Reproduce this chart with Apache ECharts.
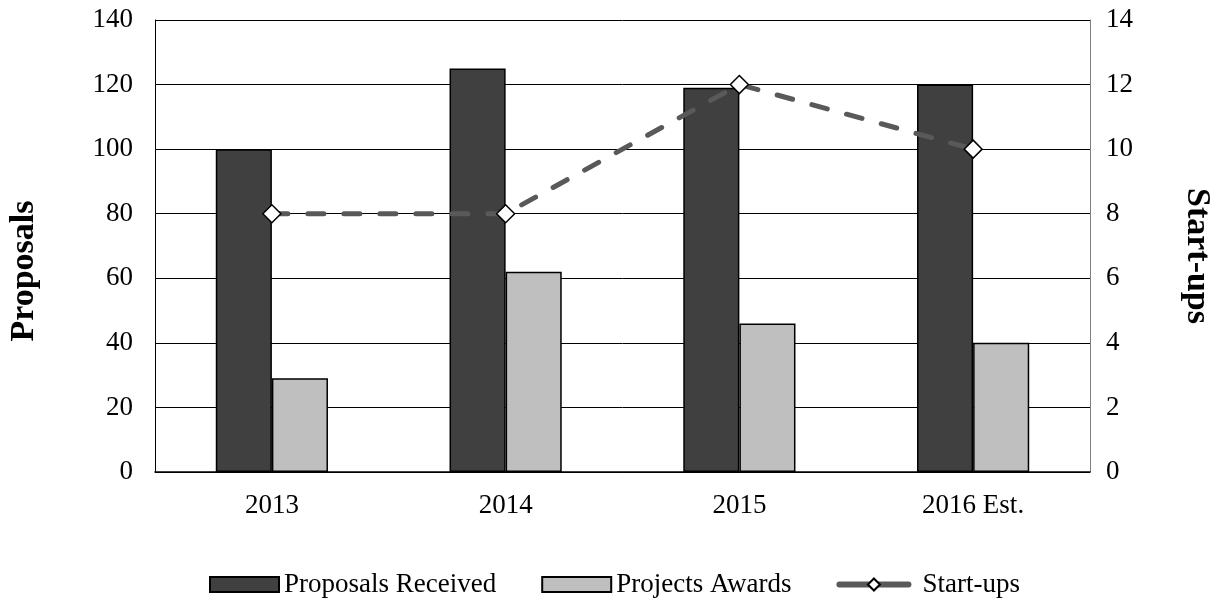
<!DOCTYPE html>
<html><head><meta charset="utf-8">
<script src="https://cdn.jsdelivr.net/npm/echarts@6/dist/echarts.min.js"></script>
<style>html,body{margin:0;padding:0;background:#fff}#c{width:1222px;height:599px}</style>
</head><body><div id="c"></div>
<script>
const categories = ['2013', '2014', '2015', '2016 Est.'];
const proposalsReceived = [100, 125, 119, 120];
const projectsAwards = [29, 62, 46, 40];
const startUps = [8, 8, 12, 10];
const leftTicks = [0, 20, 40, 60, 80, 100, 120, 140];
const rightTicks = [0, 2, 4, 6, 8, 10, 12, 14];
const leftTitle = 'Proposals';
const rightTitle = 'Start-ups';

const font = 'Liberation Serif, Times New Roman, serif';
const chart = echarts.init(document.getElementById('c'));
chart.setOption({
  animation: false,
  textStyle: { fontFamily: font },
  grid: { left: 155, right: 132, top: 20, bottom: 127 },
  graphic: [{
    type: 'text', x: 24, y: 271, rotation: Math.PI / 2,
    style: { text: leftTitle, font: 'bold 34px ' + font, fill: '#000', align: 'center', verticalAlign: 'middle' }
  }, {
    type: 'text', x: 1197, y: 256, rotation: -Math.PI / 2,
    style: { text: rightTitle, font: 'bold 34px ' + font, fill: '#000', align: 'center', verticalAlign: 'middle' }
  }],
  legend: {
    top: 566, left: 204,
    itemWidth: 69, itemHeight: 15, itemGap: 45,
    textStyle: { fontFamily: font, fontSize: 27, color: '#000' },
    data: [
      { name: 'Proposals Received', icon: 'rect' },
      { name: 'Projects Awards', icon: 'rect' },
      { name: 'Start-ups', lineStyle: { color: '#595959', width: 6, type: 'solid' },
        textStyle: { padding: [0, 0, 0, 9] } }
    ]
  },
  xAxis: {
    type: 'category', data: categories,
    axisLine: { lineStyle: { color: '#000', width: 1.5 } },
    axisTick: { show: false },
    axisLabel: { fontFamily: font, fontSize: 27, color: '#000', margin: 20 }
  },
  yAxis: [{
    type: 'value', min: 0, max: 140, interval: 20,
    axisLine: { show: true, lineStyle: { color: '#000' } },
    axisTick: { show: false },
    splitLine: { lineStyle: { color: '#000', width: 1 } },
    axisLabel: { fontFamily: font, fontSize: 27, color: '#000', margin: 22,
      formatter: v => leftTicks.includes(v) ? String(v) : '' }
  }, {
    type: 'value', min: 0, max: 14, interval: 2,
    axisLine: { show: true, lineStyle: { color: '#808080' } },
    axisTick: { show: false },
    splitLine: { show: false },
    axisLabel: { fontFamily: font, fontSize: 27, color: '#000', margin: 16,
      formatter: v => rightTicks.includes(v) ? String(v) : '' }
  }],
  series: [{
    name: 'Proposals Received', type: 'bar', data: proposalsReceived,
    barGap: '0%', barCategoryGap: '52%',
    itemStyle: { color: '#404040', borderColor: '#000', borderWidth: 1.5 }
  }, {
    name: 'Projects Awards', type: 'bar', data: projectsAwards,
    itemStyle: { color: '#bfbfbf', borderColor: '#000', borderWidth: 1.5 }
  }, {
    name: 'Start-ups', type: 'line', yAxisIndex: 1, data: startUps,
    symbol: 'diamond', symbolSize: 18,
    lineStyle: { color: '#595959', width: 5, type: [16, 20], cap: 'round' },
    itemStyle: { color: '#fff', borderColor: '#000', borderWidth: 1.5 },
    z: 5
  }]
});
</script></body></html>
